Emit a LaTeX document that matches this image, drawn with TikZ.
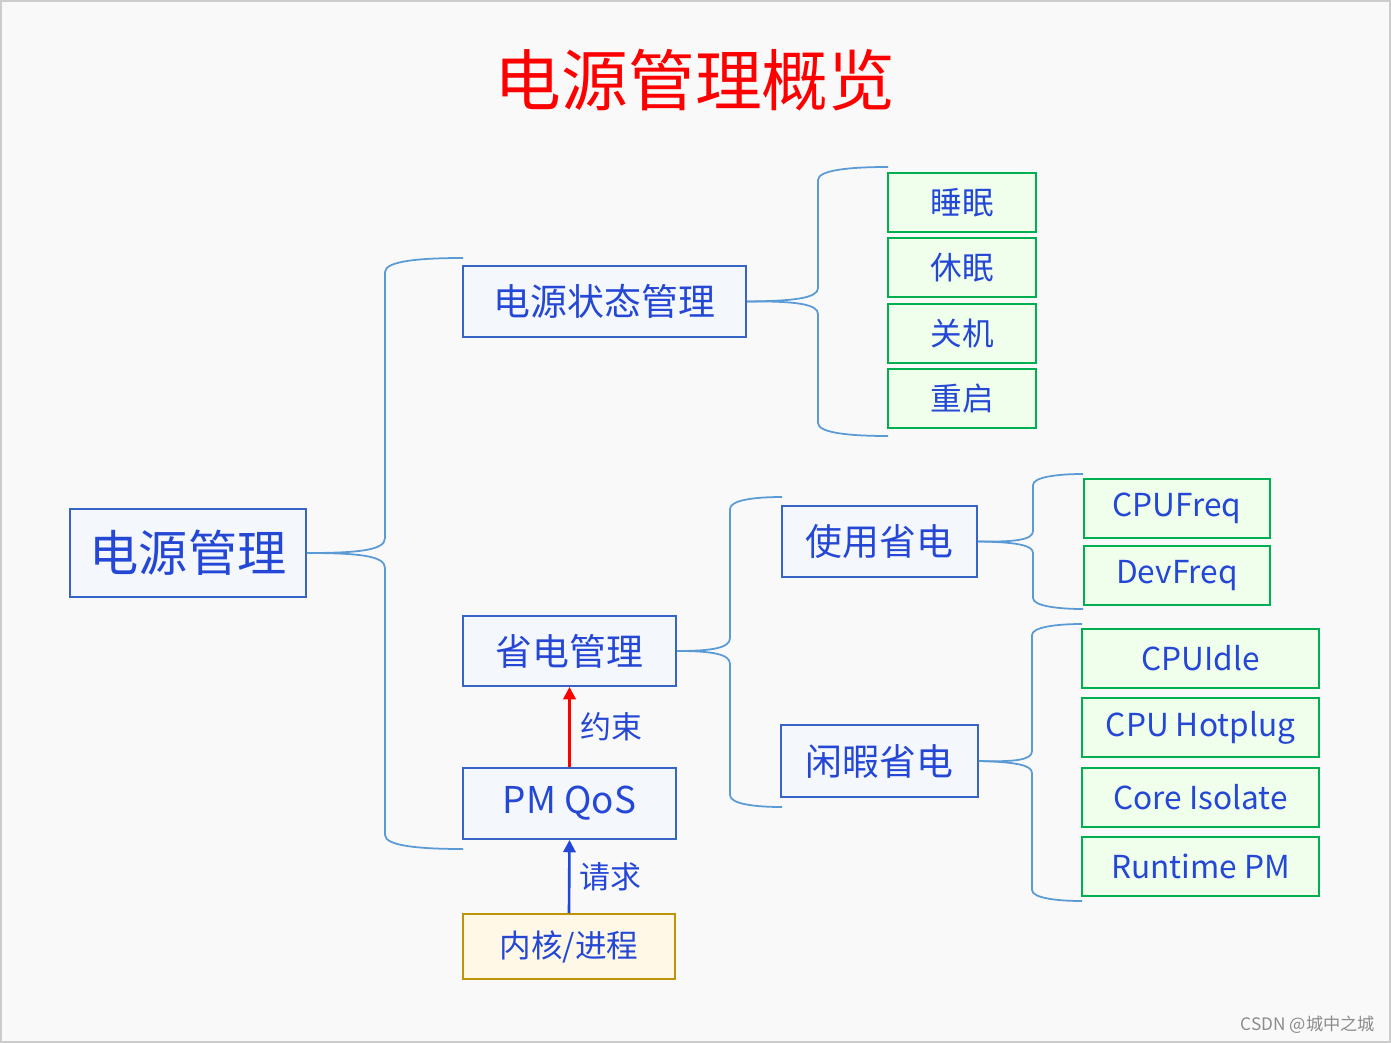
\documentclass[tikz,border=0pt]{standalone}
\usepackage{fontspec}
\setmainfont{Noto Sans CJK SC}
\usetikzlibrary{positioning,arrows.meta}

\definecolor{txtblue}{HTML}{2447D6}
\definecolor{boxblue}{HTML}{3765C7}
\definecolor{boxfill}{HTML}{F4F8FD}
\definecolor{grnline}{HTML}{00B050}
\definecolor{grnfill}{HTML}{F0FFEC}
\definecolor{linkblue}{HTML}{5B9BD5}
\definecolor{goldline}{HTML}{C09408}
\definecolor{goldfill}{HTML}{FFF8E6}
\definecolor{bgcol}{HTML}{F9F9F9}

\begin{document}
\begin{tikzpicture}[x=0.02cm,y=-0.02cm,
    topic/.style={draw=boxblue,fill=boxfill,line width=1.1pt,text=txtblue,inner sep=0pt,
                  font=\fontsize{21pt}{25pt}\selectfont},
    leaf/.style={draw=grnline,fill=grnfill,line width=1.1pt,text=txtblue,inner sep=0pt,outer sep=0pt,
                 minimum height=1.18cm,font=\fontsize{18pt}{22pt}\selectfont},
    link/.style={draw=linkblue,line width=1pt},
    flow/.style={line width=1.5pt,-{Triangle[length=7pt,width=7pt]}},
    lbl/.style={text=txtblue,font=\fontsize{17.6pt}{21pt}\selectfont}
                   ]

    \useasboundingbox (0,0) rectangle (1391,1043);
    \draw[fill=bgcol,draw=black!20,line width=1pt] (1,1) rectangle (1390,1042);

    \node[text=red,font=\fontsize{38pt}{45pt}\selectfont](title) at (695,80){电源管理概览};

    % root and first level
    \node[topic,minimum width=4.72cm,minimum height=1.76cm,font=\fontsize{28pt}{34pt}\selectfont](pm) at (188,553){电源管理};
    \node[topic,minimum width=5.66cm,minimum height=1.42cm](state) at (604.5,301.5){电源状态管理};
    \node[topic,minimum width=4.26cm,minimum height=1.40cm](save) at (569.5,651){省电管理};
    \node[topic,minimum width=4.26cm,minimum height=1.42cm](qos) at (569.5,803.5){PM QoS};
    \node[topic,draw=goldline,fill=goldfill,minimum width=4.24cm,minimum height=1.30cm,
          font=\fontsize{18pt}{22pt}\selectfont](kern) at (569,946.5){内核/进程};

    % second level
    \node[topic,minimum width=3.90cm,minimum height=1.42cm](busy) at (879.5,541.5){使用省电};
    \node[topic,minimum width=3.94cm,minimum height=1.44cm](idle) at (879.5,761){闲暇省电};

    % leaves
    \node[leaf,minimum width=2.96cm](sleep) at (962,202.5){睡眠};
    \node[leaf,minimum width=2.96cm,below=0.127cm of sleep](hiber){休眠};
    \node[leaf,minimum width=2.96cm,below=0.127cm of hiber](off){关机};
    \node[leaf,minimum width=2.96cm,below=0.127cm of off](reboot){重启};

    \node[leaf,minimum width=3.72cm](cpufreq) at (1177,508.5){CPUFreq};
    \node[leaf,minimum width=3.72cm,below=0.16cm of cpufreq](devfreq){DevFreq};

    \node[leaf,minimum width=4.74cm](cpuidle) at (1200.5,658.5){CPUIdle};
    \node[leaf,minimum width=4.74cm,below=0.207cm of cpuidle](hotplug){CPU Hotplug};
    \node[leaf,minimum width=4.74cm,below=0.207cm of hotplug](isolate){Core Isolate};
    \node[leaf,minimum width=4.74cm,below=0.207cm of isolate](rpm){Runtime PM};

    % brace ends
    \coordinate (pmT) at (463,258);
    \coordinate (pmB) at (463,849);
    \coordinate (stT) at (888,167);
    \coordinate (stB) at (888,436);
    \coordinate (svT) at (782,497);
    \coordinate (svB) at (782,807);
    \coordinate (buT) at (1083,474);
    \coordinate (buB) at (1083,609);
    \coordinate (idT) at (1082,624);
    \coordinate (idB) at (1082,901);

    \draw[link] (pm.east) .. controls (360,553) and (385,550) .. (385,538) -- (385,272)
        .. controls (385,261) and (420,258) .. (pmT);
    \draw[link] (pm.east) .. controls (360,553) and (385,556) .. (385,568) -- (385,835)
        .. controls (385,846) and (420,849) .. (pmB);

    \draw[link] (state.east) .. controls (795,301) and (818,298) .. (818,288) -- (818,180)
        .. controls (818,170) and (850,167) .. (stT);
    \draw[link] (state.east) .. controls (795,301) and (818,304) .. (818,314) -- (818,423)
        .. controls (818,433) and (850,436) .. (stB);

    \draw[link] (save.east) .. controls (712,651) and (730,648) .. (730,638) -- (730,509)
        .. controls (730,500) and (755,497) .. (svT);
    \draw[link] (save.east) .. controls (712,651) and (730,654) .. (730,664) -- (730,795)
        .. controls (730,804) and (755,807) .. (svB);

    \draw[link] (busy.east) .. controls (1015,542) and (1033,540) .. (1033,531) -- (1033,485)
        .. controls (1033,477) and (1058,474) .. (buT);
    \draw[link] (busy.east) .. controls (1015,542) and (1033,545) .. (1033,553) -- (1033,598)
        .. controls (1033,606) and (1058,609) .. (buB);

    \draw[link] (idle.east) .. controls (1015,762) and (1032,760) .. (1032,751) -- (1032,635)
        .. controls (1032,627) and (1057,624) .. (idT);
    \draw[link] (idle.east) .. controls (1015,762) and (1032,765) .. (1032,773) -- (1032,890)
        .. controls (1032,898) and (1057,901) .. (idB);

    % requests
    \draw[flow,red] (qos.north) -- node[lbl,right=2pt] {约束} (save.south);
    \draw[flow,txtblue] (kern.north) -- node[lbl,right=2pt] {请求} (qos.south);

    \node[text=black!45,font=\fontsize{9.8pt}{12pt}\selectfont](mark) at (1308,1025){CSDN @城中之城};

\end{tikzpicture}
\end{document}
